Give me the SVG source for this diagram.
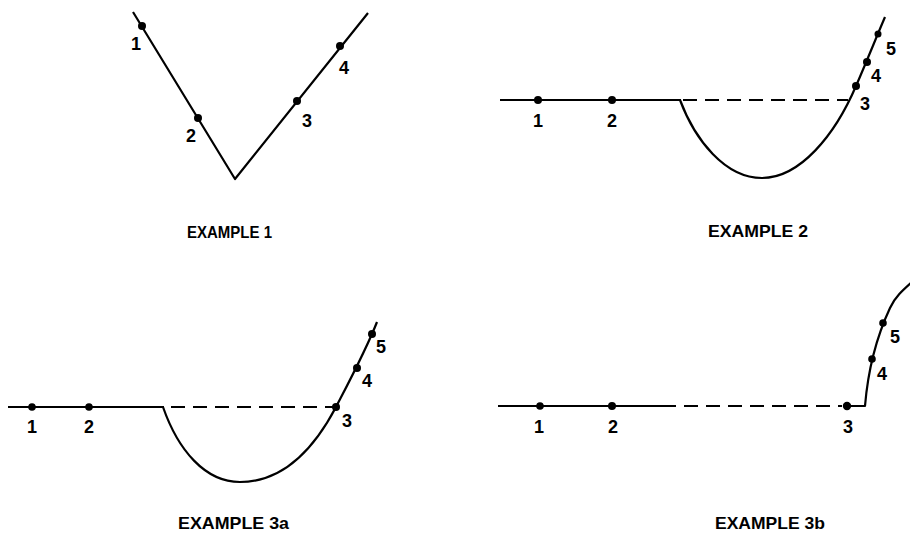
<svg xmlns="http://www.w3.org/2000/svg" width="910" height="533" viewBox="0 0 910 533">
<style>
.ln{fill:none;stroke:#000;stroke-width:2.2;stroke-linecap:butt;stroke-linejoin:round}
.ds{fill:none;stroke:#000;stroke-width:2.2;stroke-dasharray:14 8}
.pt{fill:#000}
.lb{font-family:"Liberation Sans",Arial,sans-serif;font-weight:bold;font-size:18px;fill:#000;text-anchor:middle}
.cap{font-family:"Liberation Sans",Arial,sans-serif;font-weight:bold;font-size:17px;fill:#000}
</style>
<rect width="910" height="533" fill="#fff"/>

<g id="connectors">
  <!-- Example 1 -->
  <path class="ln" d="M133,12 L235,179 L368,13"/>
  <!-- Example 2 -->
  <path class="ln" d="M500,100 L681,100"/>
  <path class="ds" d="M683,100 L848,100"/>
  <path class="ln" d="M680,100 C695,140 725,178 762,178 C800,178 835,135 856,86 C866,63 876,38 885,17"/>
  <!-- Example 3a -->
  <path class="ln" d="M8,407 L164,407"/>
  <path class="ds" d="M171,407 L336,407"/>
  <path class="ln" d="M163,407 C178,450 205,482 240,482 C285,482 316,445 336,407 C350,380 366,350 377,322"/>
  <!-- Example 3b -->
  <path class="ln" d="M498,406 L676,406"/>
  <path class="ds" d="M684,406 L842,406"/>
  <path class="ln" d="M846,406 L865,406 C868,370 876,338 890,308 C895,297 903,290 912,282"/>
</g>

<g id="example1">
  <g id="ex1-p1"><circle class="pt" cx="142" cy="26" r="4"/><text class="lb" x="136" y="50">1</text></g>
  <g id="ex1-p2"><circle class="pt" cx="198" cy="118" r="4"/><text class="lb" x="191" y="142">2</text></g>
  <g id="ex1-p3"><circle class="pt" cx="297" cy="101" r="4"/><text class="lb" x="307" y="127">3</text></g>
  <g id="ex1-p4"><circle class="pt" cx="340" cy="46" r="4"/><text class="lb" x="344" y="74">4</text></g>
  <text class="cap" x="187" y="238" textLength="85" lengthAdjust="spacingAndGlyphs">EXAMPLE 1</text>
</g>

<g id="example2">
  <g id="ex2-p1"><circle class="pt" cx="538" cy="100" r="4"/><text class="lb" x="538" y="127">1</text></g>
  <g id="ex2-p2"><circle class="pt" cx="612" cy="100" r="4"/><text class="lb" x="612" y="127">2</text></g>
  <g id="ex2-p3"><circle class="pt" cx="856" cy="86" r="4"/><text class="lb" x="865" y="110">3</text></g>
  <g id="ex2-p4"><circle class="pt" cx="867" cy="62" r="4"/><text class="lb" x="876" y="82">4</text></g>
  <g id="ex2-p5"><circle class="pt" cx="878" cy="34" r="3.5"/><text class="lb" x="891" y="55">5</text></g>
  <text class="cap" x="708" y="237" textLength="100" lengthAdjust="spacingAndGlyphs">EXAMPLE 2</text>
</g>

<g id="example3a">
  <g id="ex3a-p1"><circle class="pt" cx="32" cy="407" r="3.8"/><text class="lb" x="32" y="433">1</text></g>
  <g id="ex3a-p2"><circle class="pt" cx="89" cy="407" r="3.8"/><text class="lb" x="89" y="433">2</text></g>
  <g id="ex3a-p3"><circle class="pt" cx="336" cy="407" r="4"/><text class="lb" x="347" y="427">3</text></g>
  <g id="ex3a-p4"><circle class="pt" cx="357" cy="368" r="4"/><text class="lb" x="367" y="387">4</text></g>
  <g id="ex3a-p5"><circle class="pt" cx="372" cy="334" r="4"/><text class="lb" x="381" y="353">5</text></g>
  <text class="cap" x="178" y="529" textLength="111" lengthAdjust="spacingAndGlyphs">EXAMPLE 3a</text>
</g>

<g id="example3b">
  <g id="ex3b-p1"><circle class="pt" cx="540" cy="406" r="3.8"/><text class="lb" x="539" y="433">1</text></g>
  <g id="ex3b-p2"><circle class="pt" cx="612" cy="406" r="4"/><text class="lb" x="613" y="433">2</text></g>
  <g id="ex3b-p3"><circle class="pt" cx="847" cy="406" r="4.2"/><text class="lb" x="848" y="433">3</text></g>
  <g id="ex3b-p4"><circle class="pt" cx="872" cy="359" r="3.8"/><text class="lb" x="882" y="380">4</text></g>
  <g id="ex3b-p5"><circle class="pt" cx="883" cy="323" r="3.8"/><text class="lb" x="895" y="343">5</text></g>
  <text class="cap" x="715" y="529" textLength="110" lengthAdjust="spacingAndGlyphs">EXAMPLE 3b</text>
</g>
</svg>
